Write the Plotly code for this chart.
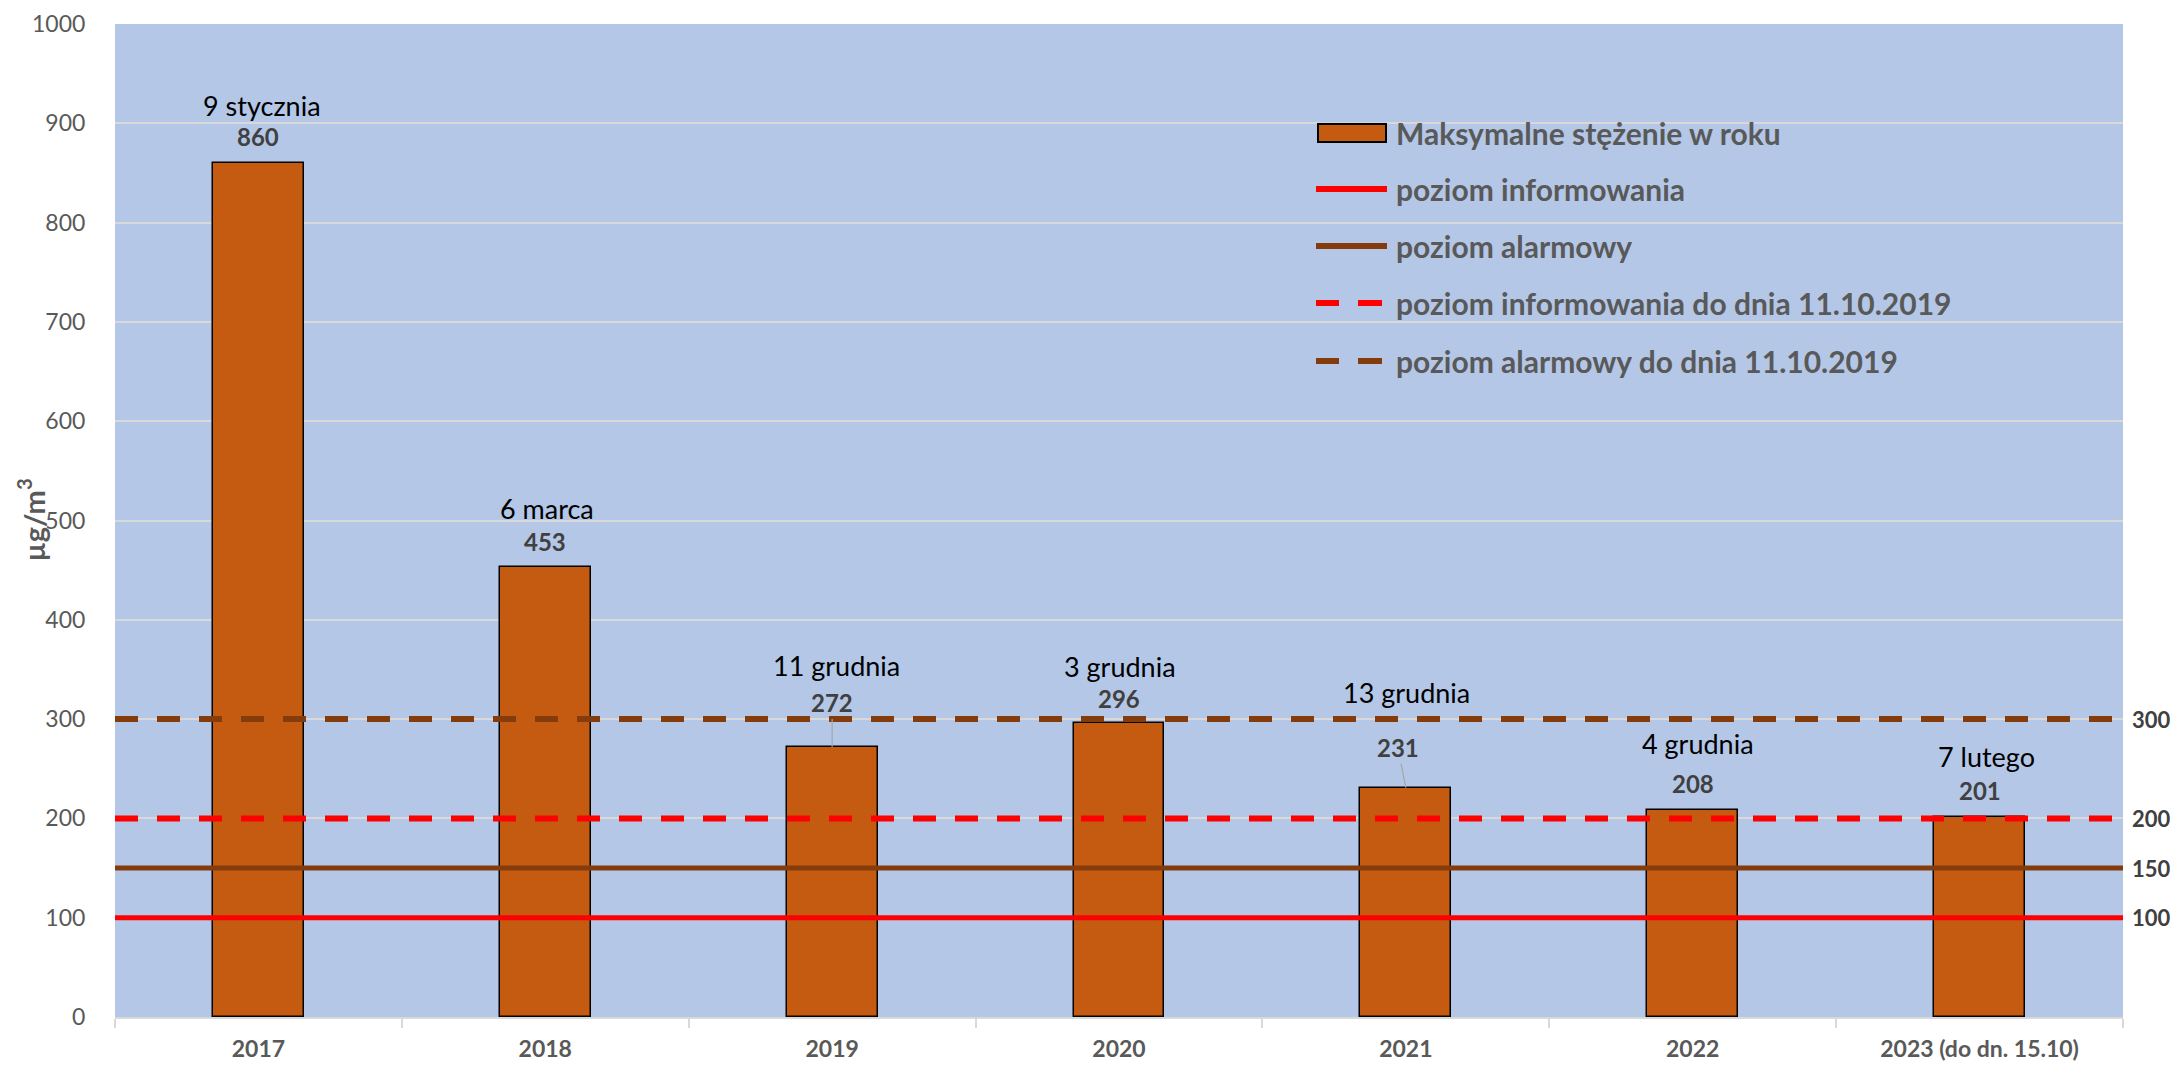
import plotly.graph_objects as go

# ---------------- data ----------------
categories = ["2017", "2018", "2019", "2020", "2021", "2022", "2023 (do dn. 15.10)"]
max_values = [860, 453, 272, 296, 231, 208, 201]
max_dates = ["9 stycznia", "6 marca", "11 grudnia", "3 grudnia", "13 grudnia", "4 grudnia", "7 lutego"]

level_names = ["poziom informowania", "poziom alarmowy",
               "poziom informowania do dnia 11.10.2019", "poziom alarmowy do dnia 11.10.2019"]
level_values = [100, 150, 200, 300]
bar_name = "Maksymalne stężenie w roku"
y_ticks = [0, 100, 200, 300, 400, 500, 600, 700, 800, 900, 1000]

# ---------------- styles / layout ----------------
FONT = "Lato, 'Open Sans', sans-serif"
OFF = 8                      # page body margin
W, H = 2179 - OFF, 1065 - OFF
ML, MR, MT, MB = 115 - OFF, 56, 24 - OFF, 48
PW, PH = W - ML - MR, H - MT - MB
BAR_COLOR = "#C55A11"
RED = "#FF0000"
BROWN = "#843C0C"
level_styles = [
    dict(color=RED, width=5, dash="solid"),
    dict(color=BROWN, width=5, dash="solid"),
    dict(color=RED, width=6, dash="23px,19px"),
    dict(color=BROWN, width=6, dash="23px,19px"),
]
# label pixel offsets relative to bar top
val_dy = [-27, -26, -44, -25, -40, -27, -27]
val_dx = [0, 0, 0, 0, -8, 0, 0]
date_dy = [-58, -59, -81, -57, -95, -67, -61]
date_dx = [4, 2, 4, 1, 1, 5, 7]
leader = [False, False, True, False, True, False, False]

xs = list(range(len(categories)))

fig = go.Figure()
fig.add_trace(go.Bar(
    x=xs, y=max_values, width=0.317, name=bar_name,
    marker=dict(color=BAR_COLOR, line=dict(color="black", width=1.5)),
    showlegend=False,
))
for name, lv, st in zip(level_names, level_values, level_styles):
    fig.add_trace(go.Scatter(
        x=[-0.5, len(categories) - 0.5], y=[lv, lv], mode="lines", name=name,
        line=st, showlegend=False, hoverinfo="skip",
    ))

annotations = []
for i, (v, d) in enumerate(zip(max_values, max_dates)):
    if leader[i]:
        annotations.append(dict(
            x=xs[i], y=v, xref="x", yref="y", text=f"<b>{v}</b>",
            showarrow=True, arrowhead=0, arrowwidth=1.2, arrowcolor="#A6A6A6",
            ax=val_dx[i], ay=val_dy[i], standoff=0,
            font=dict(family=FONT, size=24, color="#404040"),
        ))
    else:
        annotations.append(dict(
            x=xs[i], y=v, xref="x", yref="y", text=f"<b>{v}</b>",
            showarrow=False, xshift=val_dx[i], yshift=-val_dy[i],
            font=dict(family=FONT, size=24, color="#404040"),
        ))
    annotations.append(dict(
        x=xs[i], y=v, xref="x", yref="y", text=d, showarrow=False,
        xshift=date_dx[i], yshift=-date_dy[i],
        font=dict(family=FONT, size=27, color="black"),
    ))

# right-hand level labels
for lv in level_values:
    annotations.append(dict(
        x=1, y=lv, xref="paper", yref="y", text=f"<b>{lv}</b>", showarrow=False,
        xanchor="left", xshift=8, borderpad=0,
        font=dict(family=FONT, size=22, color="#404040"),
    ))

# y-axis title
annotations.append(dict(
    x=(31 - 115) / PW, y=0.5, xref="paper", yref="paper", text="<b>µg/m<sup>3</sup></b>",
    showarrow=False, textangle=-90, xanchor="center", yanchor="middle", borderpad=0,
    font=dict(family=FONT, size=29, color="#595959"),
))

# manual legend (coordinates in screenshot pixels)
def px2paper(px, py):
    return (px - OFF - ML) / PW, (H - MB - (py - OFF)) / PH

shapes = []
rows_y = [133, 189, 246, 303, 361]
sym_x0, sym_x1, text_x = 1316, 1387, 1394
legend_labels = [bar_name] + level_names
for k, (ry, lab) in enumerate(zip(rows_y, legend_labels)):
    if k == 0:
        x0, y0 = px2paper(1318, ry - 9)
        x1, y1 = px2paper(1386, ry + 9)
        shapes.append(dict(type="rect", xref="paper", yref="paper", x0=x0, x1=x1, y0=y0, y1=y1,
                           fillcolor=BAR_COLOR, line=dict(color="black", width=2)))
    else:
        st = level_styles[k - 1]
        if st["dash"] == "solid":
            segs = [(sym_x0, sym_x1)]
        else:
            segs = [(sym_x0, 1339), (1358, 1382)]
        for a, b in segs:
            x0, yy = px2paper(a, ry)
            x1, _ = px2paper(b, ry)
            shapes.append(dict(type="line", xref="paper", yref="paper", x0=x0, x1=x1, y0=yy, y1=yy,
                               line=dict(color=st["color"], width=6)))
    tx, ty = px2paper(text_x, ry)
    annotations.append(dict(
        x=tx, y=ty, xref="paper", yref="paper", text=f"<b>{lab}</b>", showarrow=False,
        xanchor="left", yanchor="middle", font=dict(family=FONT, size=30, color="#595959"),
    ))

fig.update_layout(
    width=W, height=H,
    margin=dict(l=ML, r=MR, t=MT, b=MB, autoexpand=False),
    paper_bgcolor="white", plot_bgcolor="#B4C7E7",
    font=dict(family=FONT, color="#595959"),
    bargap=0,
    annotations=annotations, shapes=shapes,
    showlegend=False,
    xaxis=dict(
        automargin=False,
        range=[-0.5, len(categories) - 0.5], tickmode="array", tickvals=xs,
        ticktext=categories,
        tickfont=dict(family=FONT, size=23, color="#595959", weight="bold"),
        ticks="outside", ticklen=11, tickcolor="rgba(0,0,0,0)",
        ticklabeloverflow="allow",
        showline=True, linecolor="#D9D9D9", linewidth=1.5,
        showgrid=False, zeroline=False,
        minor=dict(tickmode="array", tickvals=[i - 0.5 for i in range(len(categories) + 1)],
                   ticks="outside", ticklen=9, tickcolor="#D9D9D9", tickwidth=1.5, showgrid=False),
    ),
    yaxis=dict(
        automargin=False,
        range=[0, 1000], tickmode="array", tickvals=y_ticks,
        tickfont=dict(family=FONT, size=23, color="#595959"),
        ticks="outside", ticklen=24, tickcolor="rgba(0,0,0,0)",
        ticklabeloverflow="allow",
        showgrid=True, gridcolor="#D9D9D9", gridwidth=1.5,
        zeroline=False, showline=False,
    ),
)

fig.write_html("out.html")
